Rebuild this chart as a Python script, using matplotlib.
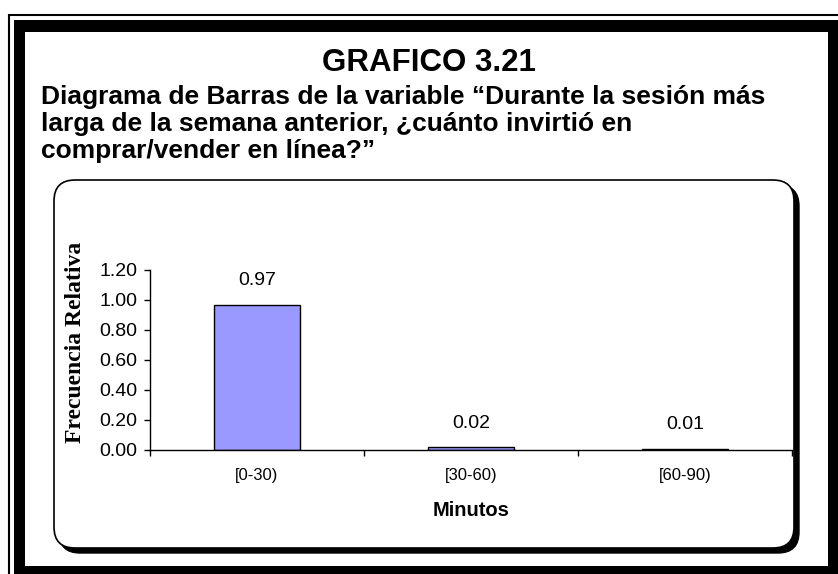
import matplotlib
matplotlib.use("Agg")
import matplotlib.pyplot as plt
from matplotlib.patches import Rectangle, FancyBboxPatch

categories = ["[0-30)", "[30-60)", "[60-90)"]
values = [0.97, 0.02, 0.01]
yticks = [0.0, 0.2, 0.4, 0.6, 0.8, 1.0, 1.2]
title = "GRAFICO 3.21"
subtitle_lines = [
    "Diagrama de Barras de la variable \u201cDurante la sesi\u00f3n m\u00e1s",
    "larga de la semana anterior, \u00bfcu\u00e1nto invirti\u00f3 en",
    "comprar/vender en l\u00ednea?\u201d",
]

W, H = 838, 574
fig = plt.figure(figsize=(W / 100, H / 100), dpi=100)
fig.patch.set_facecolor("white")
inch = fig.dpi_scale_trans


def box(x0, y0, x1, y1):
    # pixel box (top-left origin) -> inches (bottom-left origin)
    return x0 / 100, (H - y1) / 100, (x1 - x0) / 100, (y1 - y0) / 100


def fx(x):
    return x / W


def fy(y):
    return 1 - y / H


def rect(x0, y0, x1, y1, **kw):
    x, y, w, h = box(x0, y0, x1, y1)
    fig.patches.append(Rectangle((x, y), w, h, transform=inch, **kw))


# outer frame: thin line + thick black band
rect(9, 15, 900, 700, facecolor="none", edgecolor="black", lw=1.5, zorder=-20)
rect(14, 20, 900, 700, facecolor="black", edgecolor="none", zorder=-19)
rect(25, 32, 828, 566, facecolor="white", edgecolor="none", zorder=-18)

# rounded chart panel with shadow
r = 0.21
x, y, w, h = box(59, 185, 799, 553)
fig.patches.append(FancyBboxPatch((x, y), w, h, boxstyle=f"round,pad=0,rounding_size={r}",
                                  transform=inch, facecolor="black", edgecolor="black",
                                  lw=1, zorder=-17))
x, y, w, h = box(54, 180, 794, 548)
fig.patches.append(FancyBboxPatch((x, y), w, h, boxstyle=f"round,pad=0,rounding_size={r}",
                                  transform=inch, facecolor="white", edgecolor="black",
                                  lw=1.2, zorder=-16))

# titles
fig.text(fx(429), fy(71), title, ha="center", va="baseline", fontsize=22.5,
         fontweight="bold", family="Liberation Sans")
for i, line in enumerate(subtitle_lines):
    fig.text(fx(41), fy(104 + 27 * i), line, ha="left", va="baseline", fontsize=19,
             fontweight="bold", family="Liberation Sans")

# axes
ax = fig.add_axes([fx(150), fy(450), (792 - 150) / W, (450 - 270) / H])
ax.patch.set_alpha(0)
pos = [i + 0.5 for i in range(len(categories))]
ax.bar(pos, values, width=0.4, color="#9999FF", edgecolor="black", linewidth=1)
for p, v in zip(pos, values):
    ax.annotate(f"{v:.2f}", (p, v), xytext=(0, 11), textcoords="offset points",
                ha="center", va="bottom", fontsize=14, family="Liberation Sans")

ax.set_xlim(0, len(categories))
ax.set_ylim(0, 1.2)
ax.set_yticks(yticks)
ax.set_yticklabels([f"{t:.2f}" for t in yticks], family="Liberation Sans", fontsize=14)
ax.tick_params(axis="y", direction="out", length=4, width=1, pad=5)

ax.set_xticks(range(len(categories) + 1))
ax.set_xticklabels([])
ax.tick_params(axis="x", which="major", direction="out", length=4, width=1)
ax.set_xticks(pos, minor=True)
ax.set_xticklabels(categories, minor=True, family="Liberation Sans", fontsize=12)
ax.tick_params(axis="x", which="minor", length=0, pad=13)

for s in ["top", "right"]:
    ax.spines[s].set_visible(False)
for s in ["left", "bottom"]:
    ax.spines[s].set_linewidth(1)

fig.text(fx(471), fy(510), "Minutos", ha="center", va="center", fontsize=14.5,
         fontweight="bold", family="Liberation Sans")
fig.text(fx(75), fy(342), "Frecuencia Relativa", ha="center", va="center",
         rotation=90, fontsize=17, fontweight="bold", family="Liberation Serif")

fig.savefig("out.png", dpi=100)
